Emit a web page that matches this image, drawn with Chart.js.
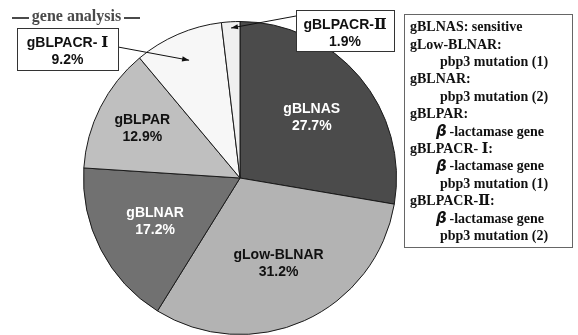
<!DOCTYPE html>
<html>
<head>
<meta charset="utf-8">
<script src="https://cdn.jsdelivr.net/npm/chart.js@4/dist/chart.umd.min.js"></script>
<style>
  html, body { margin: 0; padding: 0; background: #fff; overflow: hidden; }
  canvas { display: block; }
</style>
</head>
<body>
<canvas id="pie" width="578" height="335"></canvas>
<script>
// Genotype shares (%) of the isolates, clockwise from 12 o'clock
const categories = ['gBLNAS', 'gLow-BLNAR', 'gBLNAR', 'gBLPAR', 'gBLPACR- Ⅰ', 'gBLPACR-Ⅱ'];
const percents = [27.7, 31.2, 17.2, 12.9, 9.2, 1.9];

// Key text shown in the box on the right (indent: 0 = genotype, 1 = detail)
const keyLines = [
  ['gBLNAS: sensitive', 0],
  ['gLow-BLNAR:', 0],
  ['pbp3 mutation (1)', 1],
  ['gBLNAR:', 0],
  ['pbp3 mutation (2)', 1],
  ['gBLPAR:', 0],
  ['β -lactamase gene', 2],
  ['gBLPACR- Ⅰ:', 0],
  ['β -lactamase gene', 2],
  ['pbp3 mutation (1)', 1],
  ['gBLPACR-Ⅱ:', 0],
  ['β -lactamase gene', 2],
  ['pbp3 mutation (2)', 1]
];

const sliceColors = ['#4b4b4b', '#b3b3b3', '#717171', '#bfbfbf', '#f7f7f7', '#f0f0f0'];
const sliceTextColors = ['#ffffff', '#111111', '#ffffff', '#111111', '#111111', '#111111'];
// label distance from the centre, as a share of the radius (null = call-out box)
const labelRadius = [0.60, 0.60, 0.61, 0.70, null, null];

const SANS = '"Liberation Sans", Arial, "DejaVu Sans", sans-serif';
const SERIF = '"Liberation Serif", "Times New Roman", "DejaVu Serif", serif';

function arcPoint(arc, f) {
  const mid = (arc.startAngle + arc.endAngle) / 2;
  return { x: arc.x + Math.cos(mid) * arc.outerRadius * f, y: arc.y + Math.sin(mid) * arc.outerRadius * f };
}

function arrow(ctx, x1, y1, x2, y2) {
  ctx.save();
  ctx.strokeStyle = '#111';
  ctx.fillStyle = '#111';
  ctx.lineWidth = 1;
  ctx.beginPath();
  ctx.moveTo(x1, y1);
  ctx.lineTo(x2, y2);
  ctx.stroke();
  const a = Math.atan2(y2 - y1, x2 - x1);
  const L = 7, W = 2.6;
  ctx.beginPath();
  ctx.moveTo(x2, y2);
  ctx.lineTo(x2 - L * Math.cos(a) + W * Math.sin(a), y2 - L * Math.sin(a) - W * Math.cos(a));
  ctx.lineTo(x2 - L * Math.cos(a) - W * Math.sin(a), y2 - L * Math.sin(a) + W * Math.cos(a));
  ctx.closePath();
  ctx.fill();
  ctx.restore();
}

// Draws text where Roman numerals (Ⅰ, Ⅱ) use a serif face
function mixedText(ctx, txt, x, y, align, baseFont, numeralFont) {
  const parts = txt.split(/([ⅠⅡ])/).filter(s => s.length);
  let total = 0;
  const widths = parts.map(p => {
    ctx.font = /[ⅠⅡ]/.test(p) ? numeralFont : baseFont;
    const w = ctx.measureText(p).width;
    total += w;
    return w;
  });
  let cx = align === 'center' ? x - total / 2 : x;
  ctx.textAlign = 'left';
  parts.forEach((p, i) => {
    ctx.font = /[ⅠⅡ]/.test(p) ? numeralFont : baseFont;
    ctx.fillText(p, cx, y);
    cx += widths[i];
  });
}

function calloutBox(ctx, x, y, w, h, title, value) {
  ctx.save();
  ctx.fillStyle = '#fff';
  ctx.fillRect(x, y, w, h);
  ctx.strokeStyle = '#333';
  ctx.lineWidth = 1;
  ctx.strokeRect(x + 0.5, y + 0.5, w, h);
  ctx.fillStyle = '#111';
  ctx.textBaseline = 'middle';
  mixedText(ctx, title, x + w / 2, y + 15, 'center', 'bold 14px ' + SANS, 'bold 15px "DejaVu Serif", serif');
  ctx.font = 'bold 14px ' + SANS;
  ctx.textAlign = 'center';
  ctx.fillText(value, x + w / 2, y + 32);
  ctx.restore();
}

const annotations = {
  id: 'annotations',
  afterDatasetsDraw(chart) {
    const ctx = chart.ctx;
    const arcs = chart.getDatasetMeta(0).data;

    // labels inside the large slices
    ctx.save();
    ctx.font = 'bold 14px ' + SANS;
    ctx.textAlign = 'center';
    ctx.textBaseline = 'middle';
    arcs.forEach((arc, i) => {
      if (labelRadius[i] == null) return;
      const p = arcPoint(arc, labelRadius[i]);
      ctx.fillStyle = sliceTextColors[i];
      ctx.fillText(categories[i], p.x, p.y - 8.5);
      ctx.fillText(percents[i].toFixed(1) + '%', p.x, p.y + 8.5);
    });
    ctx.restore();

    // call-outs for the two narrow slices
    const t1 = arcPoint(arcs[4], 0.82);
    arrow(ctx, 118, 47, t1.x, t1.y);
    calloutBox(ctx, 17, 28, 101, 42, categories[4], percents[4].toFixed(1) + '%');
    const t2 = arcPoint(arcs[5], 0.96);
    arrow(ctx, 296, 16, t2.x, t2.y);
    calloutBox(ctx, 296, 10, 98, 41, categories[5], percents[5].toFixed(1) + '%');

    // heading
    ctx.save();
    ctx.fillStyle = '#4a4a4a';
    ctx.font = 'bold 16px ' + SERIF;
    ctx.textAlign = 'center';
    ctx.textBaseline = 'middle';
    ctx.fillText('gene analysis', 76.5, 17);
    ctx.fillRect(12, 17, 17, 2);
    ctx.fillRect(124, 17, 16, 2);
    ctx.restore();

    // key box
    ctx.save();
    ctx.fillStyle = '#fff';
    ctx.fillRect(404, 14, 168, 233);
    ctx.strokeStyle = '#666';
    ctx.lineWidth = 1;
    ctx.strokeRect(404.5, 14.5, 168, 233);
    ctx.fillStyle = '#111';
    ctx.textBaseline = 'middle';
    ctx.textAlign = 'left';
    keyLines.forEach(([txt, ind], i) => {
      const y = 27.5 + i * 17.4;
      if (ind === 2) {
        ctx.font = 'italic bold 15px "DejaVu Sans", sans-serif';
        ctx.fillText('β', 436, y);
        ctx.font = 'bold 14px ' + SERIF;
        ctx.fillText(txt.slice(1), 446, y);
      } else {
        mixedText(ctx, txt, ind === 1 ? 440 : 410, y, 'left', 'bold 14px ' + SERIF, 'bold 14px "DejaVu Serif", serif');
      }
    });
    ctx.restore();
  }
};

new Chart(document.getElementById('pie'), {
  type: 'pie',
  data: {
    labels: categories,
    datasets: [{
      data: percents,
      backgroundColor: sliceColors,
      borderColor: '#1a1a1a',
      borderWidth: 1
    }]
  },
  options: {
    responsive: false,
    animation: false,
    devicePixelRatio: 1,
    layout: { padding: { left: 82, right: 180, top: 21, bottom: 0 } },
    plugins: {
      legend: { display: false },
      tooltip: { enabled: false },
      title: { display: false }
    }
  },
  plugins: [annotations]
});
</script>
</body>
</html>
